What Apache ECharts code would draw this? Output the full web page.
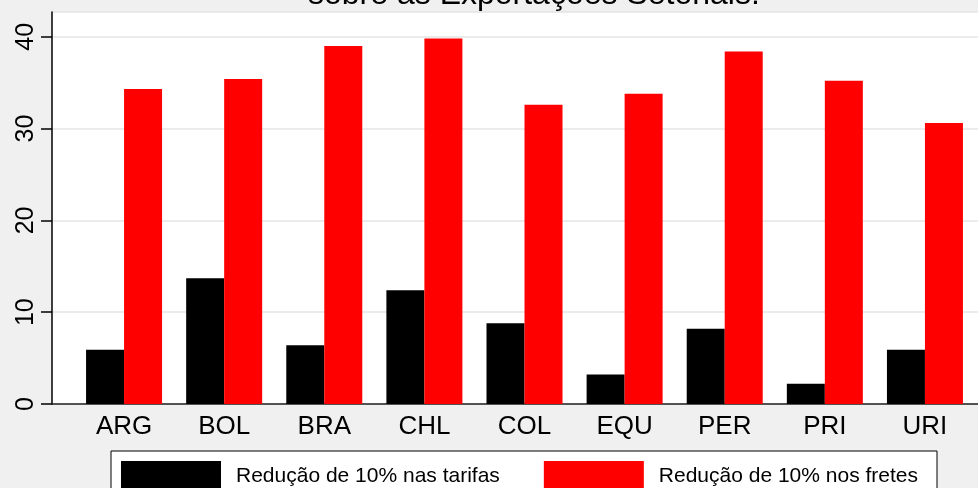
<!DOCTYPE html>
<html>
<head>
<meta charset="utf-8">
<script src="https://cdn.jsdelivr.net/npm/echarts@6/dist/echarts.min.js"></script>
<style>
html,body{margin:0;padding:0;background:#f0f0f0;}
#c{width:978px;height:488px;}
</style>
</head>
<body>
<div id="c"></div>
<script>
const titleText = 'sobre as Exportações Setoriais.';
const categories = ['ARG','BOL','BRA','CHL','COL','EQU','PER','PRI','URI'];
const tarifas = [5.9, 13.7, 6.4, 12.4, 8.8, 3.2, 8.2, 2.2, 5.9];
const fretes = [34.3, 35.4, 39.0, 39.8, 32.6, 33.8, 38.4, 35.2, 30.6];
const seriesNames = ['Redução de 10% nas tarifas', 'Redução de 10% nos fretes'];
const yMin = 0, yMax = 42.7, yStep = 10;

const FONT = 'Liberation Sans, Arial, sans-serif';
const chart = echarts.init(document.getElementById('c'));
chart.setOption({
  backgroundColor: '#f0f0f0',
  animation: false,
  textStyle: { fontFamily: FONT },
  title: {
    text: titleText,
    left: 303, top: -26,
    textStyle: { fontFamily: FONT, fontSize: 32, fontWeight: 'normal', color: '#000' }
  },
  legend: {
    data: seriesNames,
    left: 111, top: 451,
    padding: [10, 19, 20, 10],
    itemWidth: 100, itemHeight: 30, itemGap: 44,
    backgroundColor: '#fff', borderColor: '#000', borderWidth: 1,
    icon: 'rect',
    textStyle: { fontFamily: FONT, fontSize: 21, color: '#000', padding: [0, 0, 0, 10] }
  },
  grid: [
    { left: 52, right: 0, top: 12, bottom: 84, show: true, backgroundColor: '#fff', borderWidth: 0 },
    { left: 74, right: 3, top: 12, bottom: 84 }
  ],
  xAxis: [
    { gridIndex: 0, type: 'category', data: categories,
      axisLine: { show: true, lineStyle: { color: '#222', width: 1.5 } },
      axisTick: { show: false }, axisLabel: { show: false }, splitLine: { show: false } },
    { gridIndex: 1, type: 'category', data: categories,
      axisLine: { show: false }, axisTick: { show: false },
      axisLabel: { fontFamily: FONT, fontSize: 26, color: '#000', margin: 10 } }
  ],
  yAxis: [
    { gridIndex: 0, type: 'value', min: yMin, max: yMax, interval: yStep,
      axisLine: { show: true, lineStyle: { color: '#000', width: 1.5 } },
      axisTick: { show: true, length: 11, lineStyle: { color: '#000', width: 1.5 } },
      axisLabel: { rotate: 90, fontFamily: FONT, fontSize: 25, color: '#000', margin: 13, showMaxLabel: false },
      splitLine: { show: true, lineStyle: { color: '#e4e4e4', width: 1.5 } } },
    { gridIndex: 1, type: 'value', min: yMin, max: yMax, interval: yStep, show: false,
      splitLine: { show: false } }
  ],
  series: [
    { name: seriesNames[0], type: 'bar', xAxisIndex: 1, yAxisIndex: 1, data: tarifas,
      barWidth: 38, barGap: '0%', itemStyle: { color: '#000' } },
    { name: seriesNames[1], type: 'bar', xAxisIndex: 1, yAxisIndex: 1, data: fretes,
      barWidth: 38, barGap: '0%', itemStyle: { color: '#ff0000' } }
  ]
});
</script>
</body>
</html>
